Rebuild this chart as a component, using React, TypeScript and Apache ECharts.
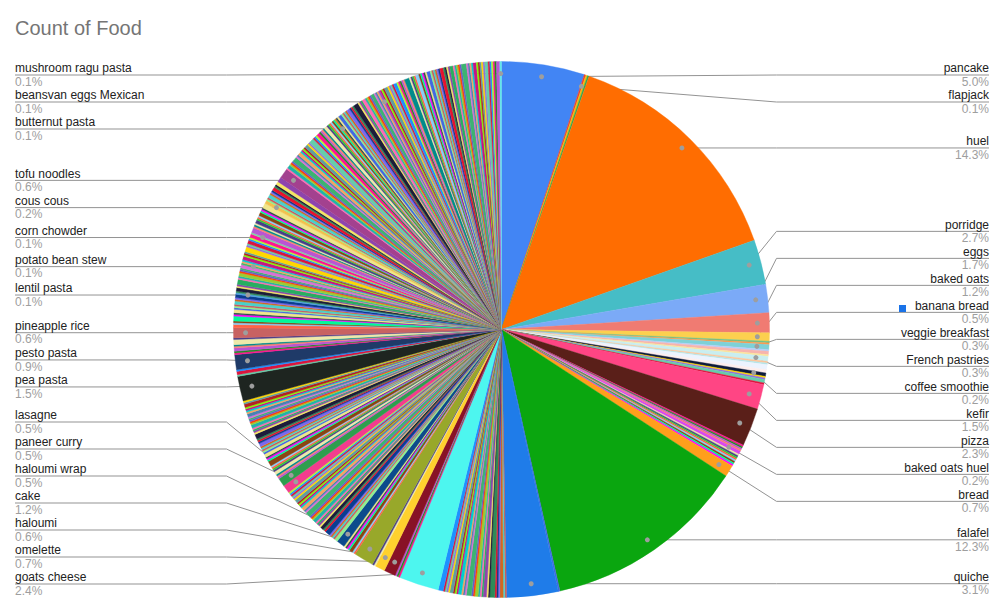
import { useEffect, useRef } from 'react';
import * as echarts from 'echarts';

const chartTitle = 'Count of Food';

// Foods that carry a label, in pie order (clockwise from 12 o'clock)
const labeledFoods = [
  'pancake', 'flapjack', 'huel', 'porridge', 'eggs', 'baked oats', 'banana bread',
  'veggie breakfast', 'French pastries', 'coffee smoothie', 'kefir', 'pizza',
  'baked oats huel', 'bread', 'falafel', 'quiche', 'goats cheese', 'omelette',
  'haloumi', 'cake', 'haloumi wrap', 'paneer curry', 'lasagne', 'pea pasta',
  'pesto pasta', 'pineapple rice', 'lentil pasta', 'potato bean stew', 'corn chowder',
  'cous cous', 'tofu noodles', 'butternut pasta', 'beansvan eggs Mexican',
  'mushroom ragu pasta',
];
const labeledCounts = [
  50, 1, 143, 27, 17, 12, 5, 3, 3, 2, 15, 23, 2, 7, 123, 31, 24, 7, 6, 12,
  5, 5, 5, 15, 9, 6, 1, 1, 1, 2, 6, 1, 1, 1,
];
const labeledColors = [
  '#4285F4', '#EA4335', '#FF6D01', '#46BDC6', '#7BAAF7', '#F07B72', '#FCD04F',
  '#7ED1D7', '#C9EEF0', '#0E1B3D', '#FF4584', '#5A1F19', '#D946EF', '#FF9F1C',
  '#0AA60F', '#1F7CE9', '#4DF6EF', '#881226', '#FFD12E', '#98A82A', '#0C4B8C',
  '#F33C8E', '#2E9E4E', '#1E2520', '#1F3A68', '#C86262', '#4FA3E0', '#3DBB6B',
  '#7FD6A0', '#F2C14E', '#A3418F', '#E67E22', '#8E5BD0', '#62E6EA',
];
// Counts of the unlabeled foods that follow each labeled food
const otherCountsAfter: number[][] = [
  [],
  [1, 1],
  [],
  [],
  [],
  [],
  [1, 1],
  [1, 2, 1],
  [1, 1, 3, 2],
  [1, 1, 2, 1],
  [],
  [1, 1, 1, 1],
  [1, 1, 1, 1, 1, 1, 1, 1],
  [],
  [1],
  [1, 1, 2, 1, 1, 1, 3, 1, 1, 2, 1, 1, 1, 2, 1, 1, 3, 1, 1, 1, 2, 1, 1, 1, 2, 1, 1, 1, 1, 3],
  [1, 1, 1],
  [],
  [1, 1],
  [1, 1, 2, 1, 1, 1, 1],
  [2, 1, 1, 1, 1, 3, 1, 1, 2, 1, 1, 1, 1, 2, 1, 1, 1, 3, 1, 1, 2, 1, 1, 1, 1, 2, 1, 1, 1, 1, 1, 1],
  [],
  [1, 1, 1, 2, 1, 1, 1, 1, 3, 1, 1, 1, 2, 1, 1, 1, 1, 1, 2, 1, 1, 1, 3, 1, 1, 1, 1, 2,
    1, 1, 1, 1, 1, 2, 1, 1, 1, 1, 2, 1, 1],
  [1, 2, 1],
  [1, 1, 2, 1, 1, 3, 1],
  [2, 1, 1, 3, 1, 1, 2, 1, 1, 1, 2, 1, 1, 2],
  [1, 2, 1, 1, 3, 1, 1, 2, 1, 1, 1, 2],
  [1, 1, 2, 1, 1, 1, 3, 1, 1, 2, 1, 1, 2],
  [3, 1, 1, 1, 2, 1, 1, 1, 2, 1, 1, 1, 3],
  [1, 1, 2, 1, 1, 1, 2, 1, 1, 2, 3],
  [1, 2, 1, 1, 1, 3, 1, 1, 2, 1, 1, 1, 1, 2, 1, 1, 3, 1, 1, 1, 2, 1, 1, 1, 1, 2, 1, 1, 1, 1, 1, 1],
  [1, 1, 2, 1, 1, 1, 1, 2, 1, 1, 1, 3, 1, 1, 1, 2, 1, 1, 1, 1, 2, 1, 1, 1],
  [1, 1, 1, 2, 1, 1, 1, 1, 2, 1, 1, 1, 1, 1, 3, 1, 1, 1, 1, 2, 1, 1, 1, 1, 1, 2,
    1, 1, 1, 1, 1, 1, 2, 1, 1, 1, 1, 2, 1, 1, 1, 1, 1, 3, 1, 1, 1, 1, 2, 1, 1, 1, 1, 1, 2,
    1, 1, 1, 1, 1, 2],
  [],
];

const basePalette = [
  '#4285F4', '#EA4335', '#FBBC04', '#34A853', '#FF6D01', '#46BDC6', '#7BAAF7', '#F07B72',
  '#FCD04F', '#71C287', '#FF994D', '#7ED1D7', '#B3CEFB', '#F7B4AE', '#FDE49B', '#AEDCBA',
  '#FFC599', '#B5E5E8', '#ECF3FE', '#FDEEED',
];
const extraPalette = [
  '#0B3D91', '#E8112D', '#2E8B57', '#1C1C3A', '#F5E663', '#8E44AD', '#27AE60', '#FF69B4',
  '#20B2AA', '#9ACD32', '#FF4500', '#6A5ACD', '#3CB371', '#DA70D6', '#4682B4', '#F4A460',
  '#00CED1', '#C71585', '#7FFF00', '#B22222', '#5F9EA0', '#FFD700', '#9370DB', '#66CDAA',
  '#DC143C', '#1E90FF', '#ADFF2F', '#FF1493', '#228B22', '#BA55D3', '#FA8072', '#008B8B',
  '#EEE8AA', '#483D8B', '#32CD32', '#FF6347', '#87CEFA', '#8B4513', '#00FA9A', '#FF00FF',
  '#2F4F4F', '#F0E68C', '#4169E1', '#90EE90', '#CD5C5C', '#48D1CC', '#D2691E', '#7B68EE',
];

const FONT = 'Arial, "Liberation Sans", sans-serif';

export default function App() {
  const ref = useRef<HTMLDivElement>(null);

  useEffect(() => {
    const el = ref.current;
    if (!el) return;
    const chart = echarts.init(el, null, { renderer: 'svg' });

    type Item = { name: string; value: number; color: string; labeled: boolean };
    const items: Item[] = [];
    labeledFoods.forEach((name, i) => {
      items.push({ name, value: labeledCounts[i], color: labeledColors[i], labeled: true });
      otherCountsAfter[i].forEach((v) => {
        const k = items.length;
        const color = k < basePalette.length ? basePalette[k] : extraPalette[k % extraPalette.length];
        items.push({ name: '', value: v, color, labeled: false });
      });
    });
    const total = items.reduce((s, it) => s + it.value, 0);

    const W = 1004;
    const cx = 501.5;
    const cy = 329.5;
    const R = 268;
    const dotR = R * 0.955;
    const GAP = 27;
    const MINY = 75;
    const MAXY = 584;

    type L = { idx: number; nat: number; side: number; y: number; dot: number[] };
    const labels: L[] = [];
    const byIdx: Record<number, L> = {};
    let acc = 0;
    items.forEach((it, idx) => {
      const a = ((acc + it.value / 2) / total) * Math.PI * 2;
      acc += it.value;
      if (!it.labeled) return;
      const dx = Math.sin(a);
      const dy = -Math.cos(a);
      const dot = [cx + dotR * dx, cy + dotR * dy];
      const l = { idx, nat: dot[1], side: dx >= 0 ? 1 : -1, y: dot[1], dot };
      labels.push(l);
      byIdx[idx] = l;
    });

    [1, -1].forEach((side) => {
      const list = labels.filter((l) => l.side === side).sort((a, b) => a.nat - b.nat);
      const clusters: L[][] = list.map((l) => [l]);
      const place = (c: L[]) => {
        const n = c.length;
        const mean = c.reduce((s, l, i) => s + l.nat - i * GAP, 0) / n;
        return Math.min(Math.max(mean, MINY), MAXY - (n - 1) * GAP);
      };
      let changed = true;
      while (changed) {
        changed = false;
        for (let i = 0; i + 1 < clusters.length; i++) {
          const a = clusters[i];
          const b = clusters[i + 1];
          if (place(a) + a.length * GAP > place(b) + 0.001) {
            clusters.splice(i, 2, a.concat(b));
            changed = true;
            break;
          }
        }
      }
      clusters.forEach((c) => {
        const s = place(c);
        c.forEach((l, i) => {
          l.y = s + i * GAP;
        });
      });
    });

    const lineColor = '#939393';

    chart.setOption({
      animation: false,
      title: {
        text: chartTitle,
        left: 15,
        top: 18,
        padding: 0,
        textStyle: { fontSize: 20, fontWeight: 'normal', color: '#757575', fontFamily: FONT },
      },
      graphic: [
        ...labels.map((l) => ({
          type: 'circle',
          z: 50,
          silent: true,
          shape: { cx: l.dot[0], cy: l.dot[1], r: 2.5 },
          style: { fill: '#9e9e9e' },
        })),
        {
          type: 'rect',
          z: 50,
          silent: true,
          shape: { x: 899, y: 305, width: 7, height: 7 },
          style: { fill: '#1A73E8' },
        },
      ],
      series: [
        {
          type: 'pie',
          center: [cx, cy],
          radius: R,
          startAngle: 90,
          clockwise: true,
          silent: true,
          emphasis: { disabled: true },
          label: { show: false },
          labelLine: { show: false },
          data: items.map((it) => ({
            name: it.name,
            value: it.value,
            itemStyle: { color: it.color, borderColor: it.color, borderWidth: 0.4 },
          })),
        },
        {
          type: 'pie',
          center: [cx, cy],
          radius: dotR,
          startAngle: 90,
          clockwise: true,
          silent: true,
          avoidLabelOverlap: false,
          emphasis: { disabled: true },
          itemStyle: { color: 'rgba(0,0,0,0)', borderWidth: 0 },
          label: {
            show: false,
            position: 'outside',
            fontFamily: FONT,
            formatter: (p: any) => {
              const l = byIdx[p.dataIndex];
              const s = l && l.side === -1 ? 'l' : 'r';
              return `{n${s}|${p.name}}\n{p${s}|${p.percent.toFixed(1)}%}`;
            },
            rich: {
              nr: { fontSize: 12, lineHeight: 13.5, color: '#222222', align: 'right', fontFamily: FONT },
              pr: { fontSize: 12, lineHeight: 13.5, color: '#9e9e9e', align: 'right', fontFamily: FONT },
              nl: { fontSize: 12, lineHeight: 13.5, color: '#222222', align: 'left', fontFamily: FONT },
              pl: { fontSize: 12, lineHeight: 13.5, color: '#9e9e9e', align: 'left', fontFamily: FONT },
            },
          },
          labelLine: { show: false, length: 4, length2: 4, lineStyle: { color: lineColor, width: 1 } },
          labelLayout: (p: any) => {
            const l = byIdx[p.dataIndex];
            if (!l) return {};
            const right = l.side === 1;
            const bendX = right ? cx + R + 7 : cx - R - 7;
            const endX = right ? W - 15 : 15;
            return {
              x: endX,
              y: l.y,
              align: right ? 'right' : 'left',
              verticalAlign: 'middle',
              labelLinePoints: [
                [l.dot[0], l.dot[1]],
                [bendX, l.y],
                [endX, l.y],
              ],
            };
          },
          data: items.map((it) => ({
            name: it.name,
            value: it.value,
            label: { show: it.labeled },
            labelLine: { show: it.labeled },
          })),
        },
      ],
    });

    return () => {
      chart.dispose();
    };
  }, []);

  return (
    <div
      ref={ref}
      style={{ position: 'absolute', left: 0, top: 0, width: 1004, height: 611, background: '#ffffff' }}
    />
  );
}
